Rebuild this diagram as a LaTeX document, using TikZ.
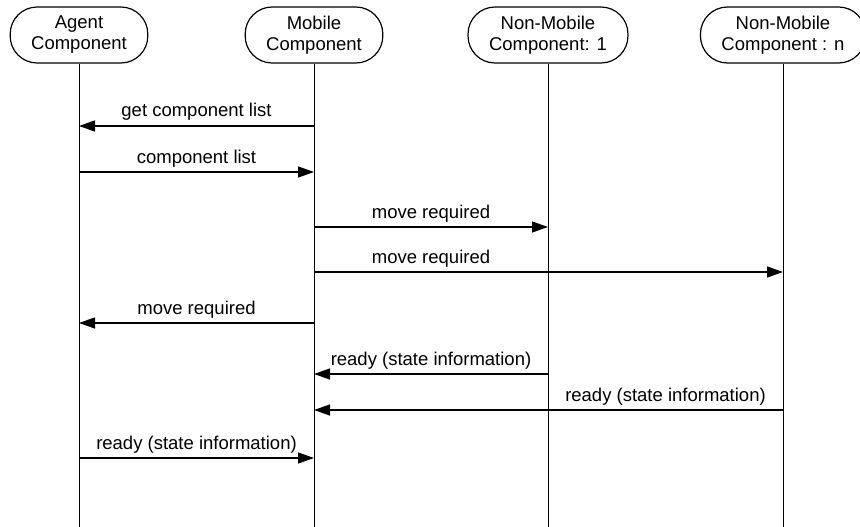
\documentclass[tikz,border=0pt]{standalone}
\usepackage{fontspec}
\setmainfont{Liberation Sans}
\usetikzlibrary{arrows.meta}
\begin{document}
\begin{tikzpicture}[x=1pt,y=-1pt,
  font=\fontsize{18.5}{21}\selectfont,
  actor/.style={draw,line width=1.2pt,rounded corners=27pt,minimum height=56pt,
    inner xsep=21pt,align=center},
  lifeline/.style={line width=1pt},
  msg/.style={line width=1.3pt,-{Triangle[length=16pt,width=11pt]}},
  lbl/.style={anchor=base,yshift=9pt,inner sep=0pt}]
  \useasboundingbox (0,0) rectangle (860,527);

  % participants
  \node[actor] (agent) at (79,35)  {Agent\\Component};
  \node[actor] (mob)   at (314,35) {Mobile\\Component};
  \node[actor] (nm1)   at (548,35) {Non-Mobile\\Component: 1};
  \node[actor] (nmn)   at (783,35) {Non-Mobile\\Component : n};

  % lifelines down to the bottom edge
  \coordinate (bottom) at (0,527);
  \foreach \p in {agent,mob,nm1,nmn}
    \draw[lifeline] (\p.south) -- (\p |- bottom);

  % message rows
  \coordinate (r1) at (0,126);
  \coordinate (r2) at (0,172);
  \coordinate (r3) at (0,227);
  \coordinate (r4) at (0,272);
  \coordinate (r5) at (0,323);
  \coordinate (r6) at (0,374);
  \coordinate (r7) at (0,410);
  \coordinate (r8) at (0,458);

  \draw[msg] (mob |- r1) -- (agent |- r1);
  \path (agent |- r1) -- node[lbl] {get component list} (mob |- r1);

  \draw[msg] (agent |- r2) -- (mob |- r2);
  \path (agent |- r2) -- node[lbl] {component list} (mob |- r2);

  \draw[msg] (mob |- r3) -- (nm1 |- r3);
  \path (mob |- r3) -- node[lbl] {move required} (nm1 |- r3);

  \draw[msg] (mob |- r4) -- (nmn |- r4);
  \path (mob |- r4) -- node[lbl] {move required} (nm1 |- r4);

  \draw[msg] (mob |- r5) -- (agent |- r5);
  \path (agent |- r5) -- node[lbl] {move required} (mob |- r5);

  \draw[msg] (nm1 |- r6) -- (mob |- r6);
  \path (mob |- r6) -- node[lbl] {ready (state information)} (nm1 |- r6);

  \draw[msg] (nmn |- r7) -- (mob |- r7);
  \path (nm1 |- r7) -- node[lbl] {ready (state information)} (nmn |- r7);

  \draw[msg] (agent |- r8) -- (mob |- r8);
  \path (agent |- r8) -- node[lbl] {ready (state information)} (mob |- r8);
\end{tikzpicture}
\end{document}
